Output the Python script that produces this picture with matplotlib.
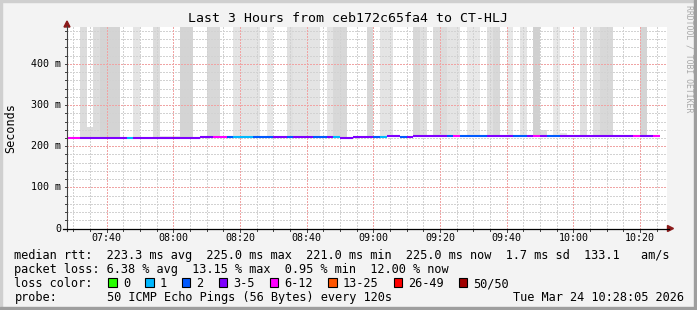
import matplotlib
matplotlib.use("Agg")
import matplotlib.pyplot as plt
from matplotlib.patches import Rectangle, Polygon
from matplotlib.lines import Line2D
import matplotlib.transforms as mtransforms

W, H, DPI = 697, 310, 100
MONO = "DejaVu Sans Mono"

title = "Last 3 Hours from ceb172c65fa4 to CT-HLJ"
y_label = "Seconds"
watermark = "RRDTOOL / TOBI OETIKER"

# time axis: minutes after 07:40
view_start_min = -11.92     # 07:28:05
view_end_min = 168.08       # 10:28:05
first_interval_min = -12    # 07:28:00
interval_min = 2            # 120 s step

x_tick_minutes = [0, 20, 40, 60, 80, 100, 120, 140, 160]
x_tick_labels = ["07:40", "08:00", "08:20", "08:40", "09:00",
                 "09:20", "09:40", "10:00", "10:20"]
y_tick_values = [0.0, 0.1, 0.2, 0.3, 0.4]
y_tick_labels = ["0", "100 m", "200 m", "300 m", "400 m"]
y_max = 0.489

# median rtt per 120 s interval (seconds)
median_rtt = [
    0.221, 0.221, 0.221, 0.221, 0.221, 0.221, 0.221, 0.221, 0.221, 0.221,
    0.221, 0.221, 0.221, 0.221, 0.221, 0.221, 0.221, 0.221, 0.221, 0.221,
    0.2225, 0.2225, 0.2225, 0.2225, 0.2212, 0.2212, 0.2212, 0.2212, 0.2212, 0.2212,
    0.2212, 0.2212, 0.2212, 0.2212, 0.2212, 0.2212, 0.2212, 0.2212, 0.2212, 0.2212,
    0.2212, 0.221, 0.221, 0.2225, 0.2225, 0.2225, 0.2225, 0.2225, 0.224, 0.224,
    0.2228, 0.2228, 0.224, 0.224, 0.224, 0.224, 0.224, 0.224, 0.224, 0.2245,
    0.2245, 0.2245, 0.2245, 0.2245, 0.2245, 0.2245, 0.2245, 0.2245, 0.2245, 0.2245,
    0.2245, 0.2245, 0.2245, 0.2245, 0.2245, 0.2245, 0.2245, 0.2245, 0.2245, 0.2245,
    0.2245, 0.2245, 0.2245, 0.2245, 0.2245, 0.2245, 0.2245, 0.2245, 0.225,
]

# lost pings (of 50) per interval
lost_pings = [
    7, 7, 4, 4, 4, 4, 4, 4, 4, 1,
    4, 4, 4, 4, 4, 4, 4, 4, 4, 4,
    4, 4, 7, 7, 2, 1, 1, 1, 2, 2,
    2, 4, 4, 2, 4, 4, 4, 2, 2, 4,
    1, 4, 4, 4, 4, 4, 2, 1, 4, 4,
    2, 4, 4, 4, 4, 4, 4, 2, 7, 2,
    2, 2, 2, 4, 4, 4, 4, 2, 2, 4,
    7, 4, 2, 2, 4, 4, 4, 4, 4, 4,
    4, 4, 4, 4, 4, 7, 4, 4, 6,
]

# upper end of the smoke per interval (None = no smoke); values above y_max run off the chart
smoke_top = [
    None, None, 0.6, 0.247, 0.6, 0.6, 0.6, 0.6, None, None,
    0.6, None, None, 0.6, 0.226, 0.226, 0.226, 0.6, 0.6, None,
    None, 0.6, 0.6, None, None, 0.6, 0.6, 0.6, 0.6, None,
    0.6, None, None, 0.6, 0.6, 0.6, 0.6, 0.6, None, 0.6,
    0.6, 0.6, None, None, None, 0.6, None, 0.6, 0.6, None,
    None, None, 0.6, 0.6, None, 0.6, 0.6, 0.6, 0.6, None,
    0.6, 0.6, None, 0.6, 0.6, None, 0.6, None, 0.6, None,
    0.6, 0.239, None, 0.6, 0.232, None, None, 0.6, None, 0.6,
    0.6, 0.6, None, None, None, None, 0.6, None, None,
]
# smoke density (number of pings in the visible smoke band)
smoke_pings = [
    0, 0, 4, 4, 4, 6, 6, 6, 0, 0,
    2, 0, 0, 4, 2, 2, 2, 6, 6, 0,
    0, 5, 5, 0, 0, 2, 2, 2, 2, 0,
    1, 0, 0, 3, 2, 2, 2, 2, 0, 2,
    5, 5, 0, 0, 0, 5, 0, 2, 2, 0,
    0, 0, 5, 3, 0, 4, 4, 2, 2, 0,
    1, 1, 0, 3, 5, 0, 1, 0, 2, 0,
    7, 4, 0, 1, 2, 0, 0, 3, 0, 3,
    5, 5, 0, 0, 0, 0, 6, 0, 0,
]

loss_labels = ["0", "1", "2", "3-5", "6-12", "13-25", "26-49", "50/50"]
loss_lower = [0, 1, 2, 3, 6, 13, 26, 50]
loss_colors = ["#26ff00", "#00b8ff", "#0059ff", "#7e00ff",
               "#ff00ff", "#ff5500", "#ff0000", "#a00000"]

rtt_avg, rtt_max, rtt_min, rtt_now, rtt_sd, rtt_ams = 223.3, 225.0, 221.0, 225.0, 1.7, 133.1
loss_avg, loss_max, loss_min, loss_now = 6.38, 13.15, 0.95, 12.00
probe_text = "50 ICMP Echo Pings (56 Bytes) every 120s"
stamp_text = "Tue Mar 24 10:28:05 2026"


def loss_color(n):
    c = loss_colors[0]
    for lo, col in zip(loss_lower, loss_colors):
        if n >= lo:
            c = col
    return c


def smoke_color(n):
    g = 0xe8 - 4 * (n - 1)
    return "#%02x%02x%02x" % (g, g, g)


fig = plt.figure(figsize=(W / DPI, H / DPI), dpi=DPI, facecolor="#f3f3f3")


def fx(px):
    return px / W


def fy(py):
    return 1 - py / H


# frame
fig.patches.append(Rectangle((0, fy(2)), 1, 2 / H, transform=fig.transFigure, color="#cfcfcf", zorder=0))
fig.patches.append(Rectangle((0, 0), 2 / W, 1, transform=fig.transFigure, color="#cfcfcf", zorder=0))
fig.patches.append(Rectangle((fx(694), 0), 3 / W, 1, transform=fig.transFigure, color="#9e9e9e", zorder=0))
fig.patches.append(Rectangle((0, 0), 1, 3 / H, transform=fig.transFigure, color="#9e9e9e", zorder=0))

PX0, PX1, PY_TOP, PY_BOT = 67, 667, 27.3, 228.5
ax = fig.add_axes([fx(PX0), fy(PY_BOT), (PX1 - PX0) / W, (PY_BOT - PY_TOP) / H])
ax.set_facecolor("white")
ax.set_xlim(view_start_min, view_end_min)
ax.set_ylim(0, y_max)
for s in ax.spines.values():
    s.set_visible(False)
ax.set_xticks([])
ax.set_yticks([])

starts = [first_interval_min + interval_min * i for i in range(len(median_rtt))]

# smoke
for x0, med, top, n in zip(starts, median_rtt, smoke_top, smoke_pings):
    if top is None:
        continue
    ax.bar(x0, top - med, bottom=med, width=interval_min, align="edge",
           color=smoke_color(n), linewidth=0, zorder=1)

# grid
minor_c = "#d2d2d2"
major_c = "#f0a4a4"
dash = (0, (1.4, 1.4))
GW = 0.72
m = -10
while m < view_end_min:
    if m % 20 != 0:
        ax.axvline(m, color=minor_c, lw=GW, ls=dash, zorder=2, antialiased=False)
    m += 5
v = 0.02
while v < y_max:
    if abs(round(v * 10) - v * 10) > 1e-6:
        ax.axhline(v, color=minor_c, lw=GW, ls=dash, zorder=2, antialiased=False)
    v += 0.02
for t in x_tick_minutes:
    ax.axvline(t, color=major_c, lw=GW, ls=dash, zorder=2, antialiased=False)
for yv in y_tick_values[1:]:
    ax.axhline(yv, color=major_c, lw=GW, ls=dash, zorder=2, antialiased=False)

# median line
ax.hlines(median_rtt, starts, [s + interval_min for s in starts],
          colors=[loss_color(n) for n in lost_pings], lw=1.5, zorder=3)

# axes lines and arrows
fig.lines.append(Line2D([fx(PX0), fx(PX0)], [fy(231), fy(26)], transform=fig.transFigure,
                        color="#404040", lw=0.8))
fig.lines.append(Line2D([fx(63), fx(669)], [fy(PY_BOT), fy(PY_BOT)], transform=fig.transFigure,
                        color="#000000", lw=0.9))
arrow_c = "#8b1a1a"
fig.patches.append(Polygon([(fx(PX0 - 3), fy(27)), (fx(PX0 + 3), fy(27)), (fx(PX0), fy(21))],
                           closed=True, transform=fig.transFigure, color=arrow_c))
fig.patches.append(Polygon([(fx(667.5), fy(PY_BOT - 3)), (fx(667.5), fy(PY_BOT + 3)), (fx(673.5), fy(PY_BOT))],
                           closed=True, transform=fig.transFigure, color=arrow_c))

# tick marks
bt = mtransforms.blended_transform_factory(ax.transData, fig.transFigure)
m = -10
while m < view_end_min:
    L = 3 if m % 20 == 0 else 2
    ax.add_line(Line2D([m, m], [fy(PY_BOT), fy(PY_BOT + L)], transform=bt, color="#404040", lw=0.7, clip_on=False))
    m += 5
lt = mtransforms.blended_transform_factory(fig.transFigure, ax.transData)
v = 0.02
while v < y_max:
    ax.add_line(Line2D([fx(PX0 - 2), fx(PX0)], [v, v], transform=lt, color="#404040", lw=0.7, clip_on=False))
    v += 0.02

# tick labels
for t, lab in zip(x_tick_minutes, x_tick_labels):
    ax.text(t, fy(241.3), lab, transform=bt, ha="center", va="baseline",
            family=MONO, fontsize=7.2, color="black")
for yv, lab in zip(y_tick_values, y_tick_labels):
    ax.text(fx(61), yv, lab, transform=lt, ha="right", va="center",
            family=MONO, fontsize=7.2, color="black")

# title & labels
fig.text(fx(347.5), fy(22.5), title, ha="center", va="baseline", family=MONO, fontsize=9.5, color="black")
fig.text(fx(11), fy(128), y_label, rotation=90, ha="center", va="center", family=MONO, fontsize=8.5, color="black")
fig.text(fx(688.5), fy(5), watermark, rotation=270, ha="center", va="top", family=MONO, fontsize=5.9, color="#a8a8a8")

# legend
LF = 8.54
LX = 14.5
row1 = ("median rtt:  %.1f ms avg  %.1f ms max  %.1f ms min  %.1f ms now  %.1f ms sd  %.1f   am/s"
        % (rtt_avg, rtt_max, rtt_min, rtt_now, rtt_sd, rtt_ams))
row2 = ("packet loss: %.2f %% avg  %.2f %% max  %.2f %% min  %.2f %% now"
        % (loss_avg, loss_max, loss_min, loss_now))
fig.text(fx(LX), fy(258.5), row1, ha="left", va="baseline", family=MONO, fontsize=LF, color="black")
fig.text(fx(LX), fy(272.8), row2, ha="left", va="baseline", family=MONO, fontsize=LF, color="black")
fig.text(fx(LX), fy(287.1), "loss color:", ha="left", va="baseline", family=MONO, fontsize=LF, color="black")
fig.text(fx(LX), fy(301.4), "probe:", ha="left", va="baseline", family=MONO, fontsize=LF, color="black")
fig.text(fx(107.3), fy(301.4), probe_text, ha="left", va="baseline", family=MONO, fontsize=LF, color="black")
fig.text(fx(684), fy(301.4), stamp_text, ha="right", va="baseline", family=MONO, fontsize=LF, color="black")

CW = 7.14
bx = 108.3
for lab, col in zip(loss_labels, loss_colors):
    fig.patches.append(Rectangle((fx(bx), fy(286.8)), 8.4 / W, 8.6 / H, transform=fig.transFigure,
                                 facecolor=col, edgecolor="black", lw=0.8))
    fig.text(fx(bx + 14.5), fy(287.1), lab, ha="left", va="baseline", family=MONO, fontsize=LF, color="black")
    bx += 29.7 + CW * len(lab)

fig.savefig("out.png", dpi=DPI, facecolor=fig.get_facecolor())
